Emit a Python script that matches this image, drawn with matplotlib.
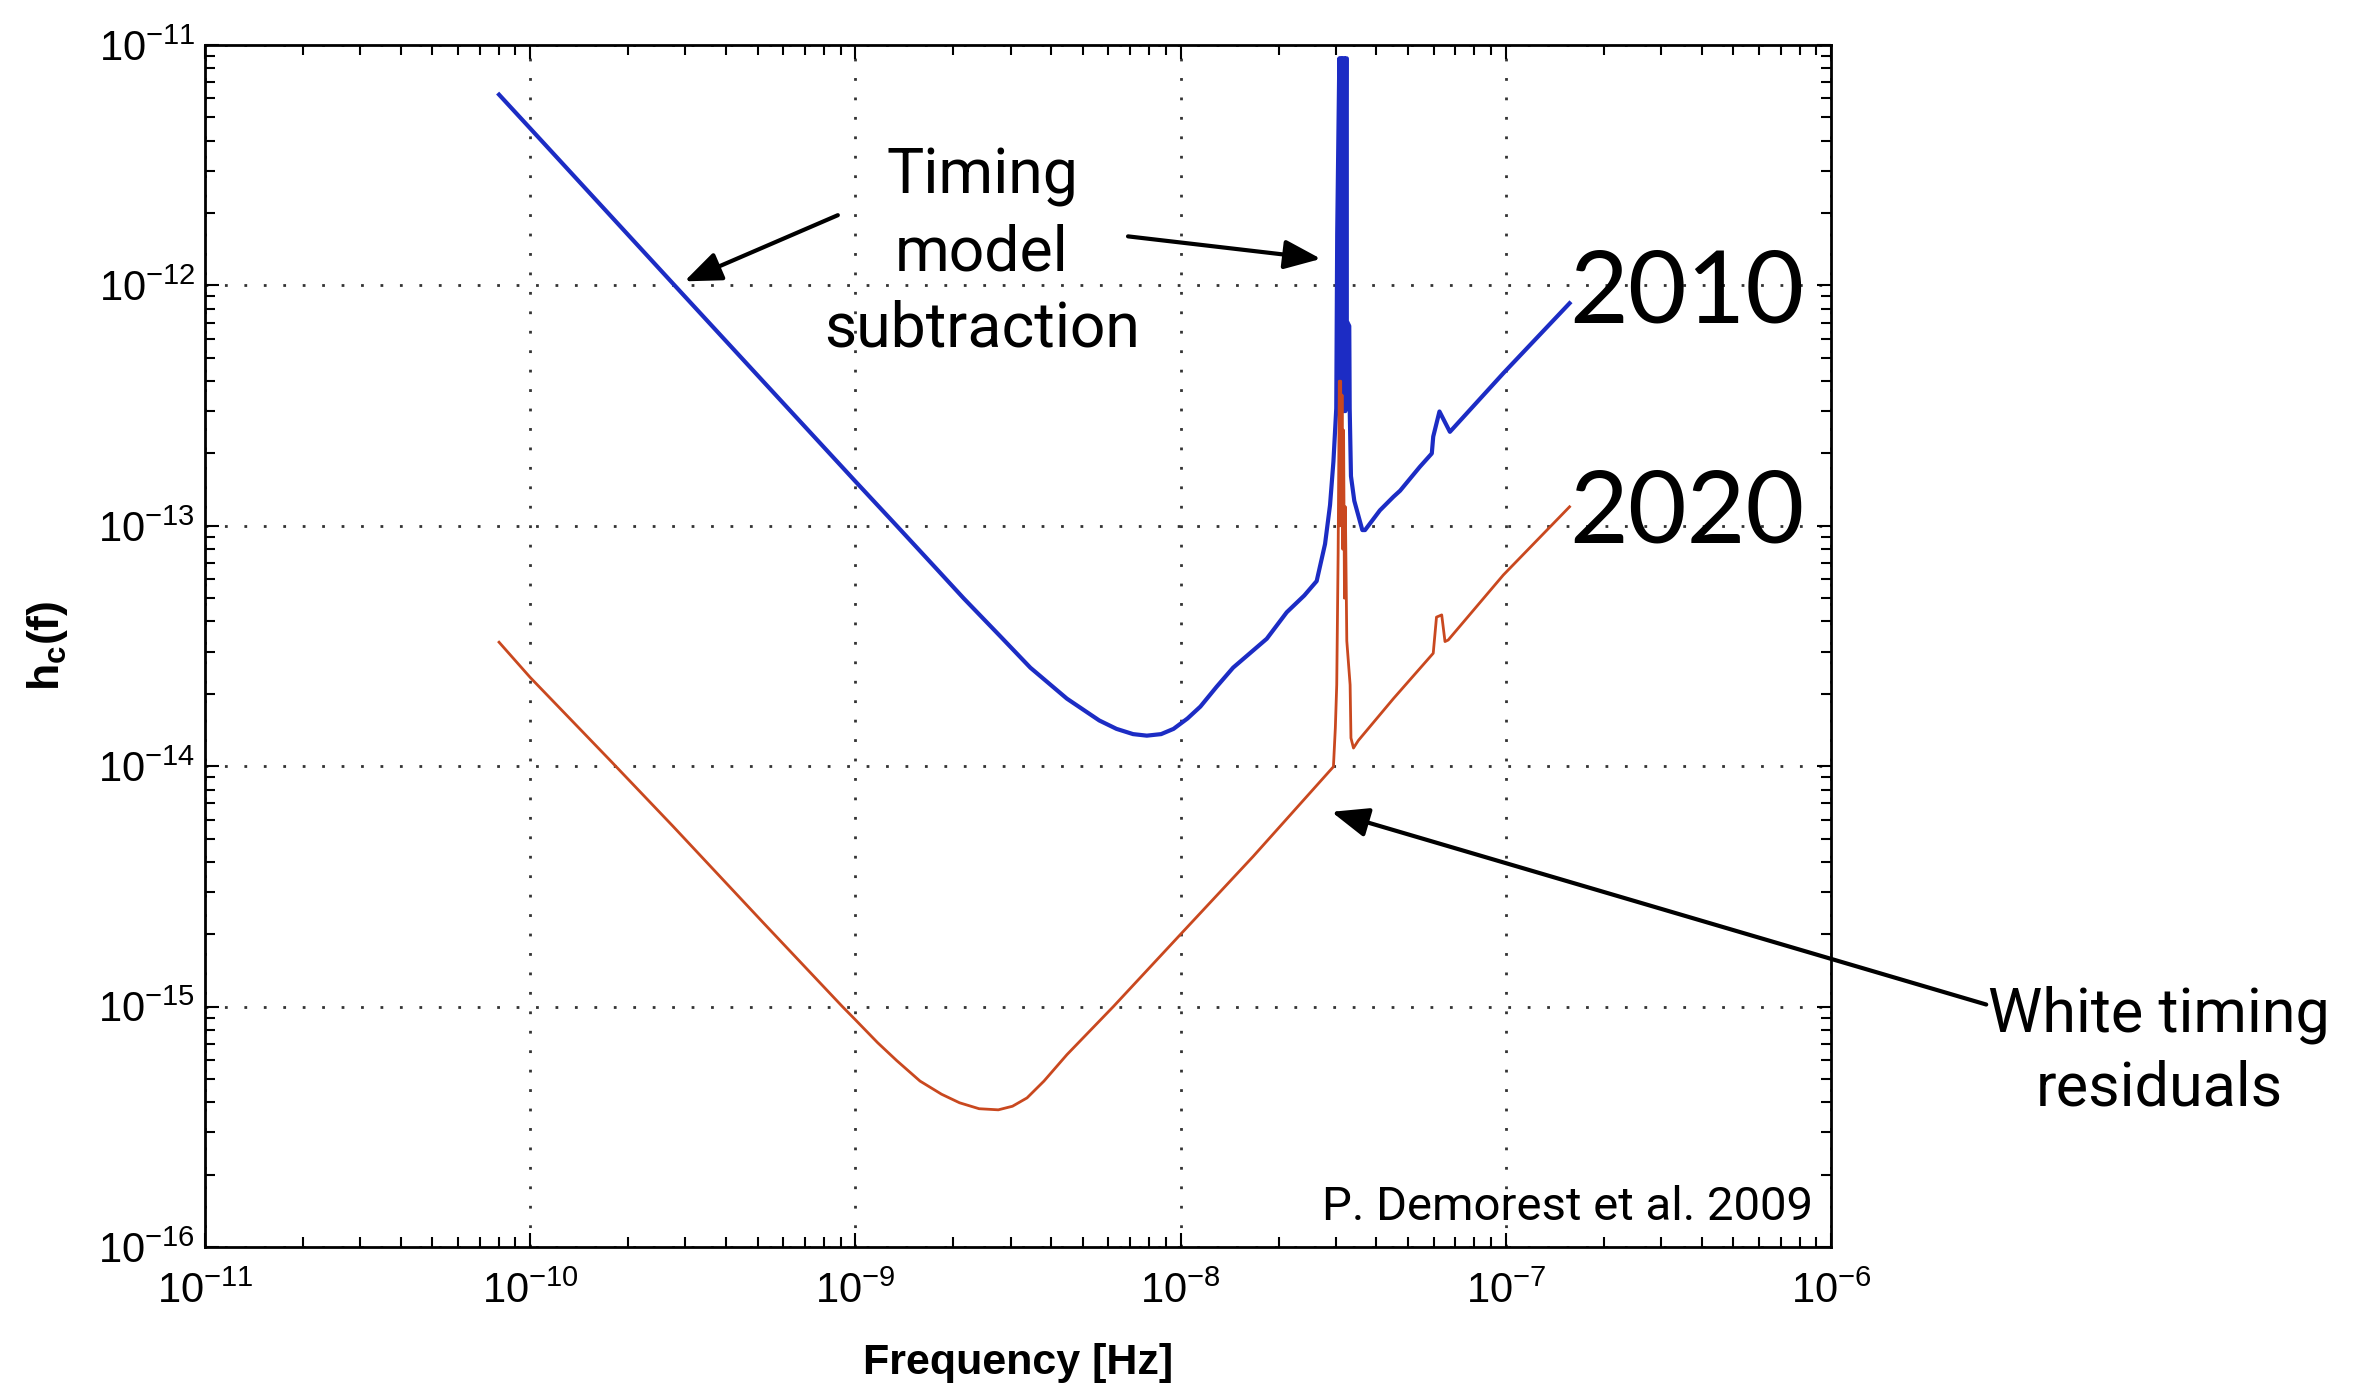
import matplotlib.pyplot as plt
from matplotlib.ticker import LogLocator, NullFormatter

plt.rcParams['font.family'] = ['Liberation Sans', 'DejaVu Sans']
plt.rcParams['mathtext.fontset'] = 'custom'
plt.rcParams['mathtext.rm'] = 'Liberation Sans'
plt.rcParams['mathtext.it'] = 'Liberation Sans:italic'
plt.rcParams['mathtext.bf'] = 'Liberation Sans:bold'
# keep every sample of the narrow yearly peak
plt.rcParams['path.simplify'] = False

# characteristic strain sensitivity h_c(f), 2010 array
freq_2010 = [8.02e-11, 1.0e-10, 2.80e-10, 1.0e-9, 1.34e-9, 1.78e-9, 2.15e-9, 2.79e-9,
             3.45e-9, 4.47e-9, 5.62e-9, 6.35e-9, 7.14e-9, 7.87e-9, 8.71e-9, 9.51e-9,
             1.05e-8, 1.15e-8, 1.29e-8, 1.45e-8, 1.84e-8, 2.12e-8, 2.40e-8, 2.62e-8,
             2.78e-8, 2.88e-8, 2.95e-8, 3.01e-8, 3.03e-8,
             3.076e-8, 3.09e-8, 3.105e-8, 3.12e-8, 3.135e-8, 3.15e-8, 3.165e-8, 3.18e-8,
             3.195e-8, 3.21e-8, 3.225e-8, 3.243e-8, 3.243e-8,
             3.30e-8, 3.31e-8, 3.34e-8, 3.42e-8, 3.62e-8, 3.69e-8, 4.10e-8, 4.51e-8,
             4.73e-8, 5.44e-8, 5.92e-8, 5.98e-8, 6.25e-8, 6.73e-8, 9.82e-8, 1.57e-7]
hc_2010 = [6.22e-12, 4.50e-12, 9.9e-13, 1.53e-13, 1.0e-13, 6.6e-14, 5.0e-14, 3.47e-14,
           2.57e-14, 1.91e-14, 1.55e-14, 1.43e-14, 1.36e-14, 1.34e-14, 1.36e-14, 1.43e-14,
           1.58e-14, 1.77e-14, 2.14e-14, 2.57e-14, 3.39e-14, 4.37e-14, 5.13e-14, 5.89e-14,
           8.4e-14, 1.22e-13, 1.85e-13, 3.08e-13, 1.64e-12,
           8.8e-12, 3.0e-13, 8.8e-12, 3.0e-13, 8.8e-12, 3.0e-13, 8.8e-12, 3.0e-13,
           8.8e-12, 3.0e-13, 8.8e-12, 8.8e-12, 7.11e-13,
           6.78e-13, 3.08e-13, 1.61e-13, 1.27e-13, 9.6e-14, 9.6e-14, 1.16e-13, 1.32e-13,
           1.40e-13, 1.76e-13, 2.0e-13, 2.35e-13, 2.99e-13, 2.46e-13, 4.31e-13, 8.43e-13]

# projected 2020 array
freq_2020 = [8.02e-11, 1.0e-10, 1.77e-10, 2.75e-10, 5.18e-10, 9.12e-10, 1.0e-9, 1.17e-9,
             1.34e-9, 1.58e-9, 1.84e-9, 2.09e-9, 2.40e-9, 2.75e-9, 3.04e-9, 3.37e-9,
             3.80e-9, 4.47e-9, 6.21e-9, 1.0e-8, 1.67e-8, 2.95e-8, 2.99e-8, 3.02e-8,
             3.05e-8, 3.076e-8, 3.09e-8, 3.105e-8, 3.12e-8, 3.135e-8, 3.15e-8, 3.17e-8,
             3.19e-8, 3.21e-8, 3.243e-8, 3.32e-8, 3.34e-8, 3.40e-8, 3.52e-8,
             4.51e-8, 5.98e-8, 6.12e-8, 6.35e-8, 6.50e-8, 6.65e-8, 9.82e-8, 1.57e-7]
hc_2020 = [3.28e-14, 2.34e-14, 1.05e-14, 5.62e-15, 2.25e-15, 1.0e-15, 8.81e-16, 7.08e-16,
           5.96e-16, 4.90e-16, 4.32e-16, 3.98e-16, 3.76e-16, 3.72e-16, 3.85e-16, 4.17e-16,
           4.90e-16, 6.31e-16, 1.0e-15, 2.0e-15, 4.21e-15, 9.95e-15, 1.44e-14, 2.18e-14,
           7.64e-14, 4.0e-13, 1.0e-13, 4.0e-13, 1.0e-13, 3.5e-13, 8.0e-14, 2.5e-13,
           5.0e-14, 1.2e-13, 3.32e-14, 2.18e-14, 1.31e-14, 1.19e-14, 1.28e-14,
           1.91e-14, 2.95e-14, 4.17e-14, 4.26e-14, 3.30e-14, 3.35e-14, 6.24e-14, 1.20e-13]

fig = plt.figure(figsize=(23.59, 13.86), dpi=100)
ax = fig.add_axes([0.0869, 0.1003, 0.6893, 0.8672])

ax.loglog(freq_2010, hc_2010, color='#1c2cc4', lw=3.0, solid_joinstyle='round')
ax.loglog(freq_2020, hc_2020, color='#c9481f', lw=2.0, solid_joinstyle='round')

ax.set_xlim(1e-11, 1e-6)
ax.set_ylim(1e-16, 1e-11)
ax.xaxis.set_major_locator(LogLocator(base=10, numticks=10))
ax.yaxis.set_major_locator(LogLocator(base=10, numticks=10))
ax.xaxis.set_minor_locator(LogLocator(base=10, subs=range(2, 10), numticks=10))
ax.yaxis.set_minor_locator(LogLocator(base=10, subs=range(2, 10), numticks=10))
ax.xaxis.set_minor_formatter(NullFormatter())
ax.yaxis.set_minor_formatter(NullFormatter())

ax.grid(True, which='major', color='#333333', linestyle=(0, (1, 6)), lw=2.0)
ax.tick_params(which='both', direction='in', top=True, right=True, width=1.5,
               labelsize=30, color='black')
ax.tick_params(which='major', length=10)
ax.tick_params(axis='x', which='major', pad=18)
ax.tick_params(axis='y', which='major', pad=7)
ax.tick_params(which='minor', length=7)
for sp in ax.spines.values():
    sp.set_linewidth(2.0)

ax.set_xlabel('Frequency [Hz]', fontsize=31, fontweight='bold', labelpad=22)
ax.set_ylabel(r'h$_{\mathregular{c}}$(f)', fontsize=32, fontweight='bold', labelpad=20)

note = dict(family=['Roboto', 'DejaVu Sans'], fontweight='normal', color='black')
arrow = dict(arrowstyle='-|>,head_length=0.75,head_width=0.3', color='black',
             lw=3.0, mutation_scale=30, shrinkA=0, shrinkB=0)

ax.text(2.45e-9, 1.36e-12, 'Timing\nmodel\nsubtraction', ha='center', va='center',
        fontsize=45, linespacing=1.35, **note)
ax.annotate('', xy=(2.98e-10, 1.04e-12), xytext=(8.83e-10, 1.96e-12), arrowprops=arrow)
ax.annotate('', xy=(2.70e-8, 1.29e-12), xytext=(6.89e-9, 1.60e-12), arrowprops=arrow)
ax.annotate('', xy=(2.91e-8, 6.46e-15), xytext=(3.0e-6, 1.02e-15), arrowprops=arrow,
            annotation_clip=False)
ax.text(1.02e-5, 6.5e-16, 'White timing\nresiduals', ha='center', va='center',
        fontsize=44, linespacing=1.35, clip_on=False, **note)
ax.text(8.81e-7, 1.47e-16, 'P. Demorest et al. 2009', ha='right', va='center',
        fontsize=34, **note)

year_font = dict(family=['Lato', 'DejaVu Sans'], fontsize=73, color='black',
                 ha='center', va='center', clip_on=False)
ax.text(3.61e-7, 9.2e-13, '2010', **year_font)
ax.text(3.61e-7, 1.12e-13, '2020', **year_font)

fig.savefig('out.png', dpi=100, facecolor='white')
